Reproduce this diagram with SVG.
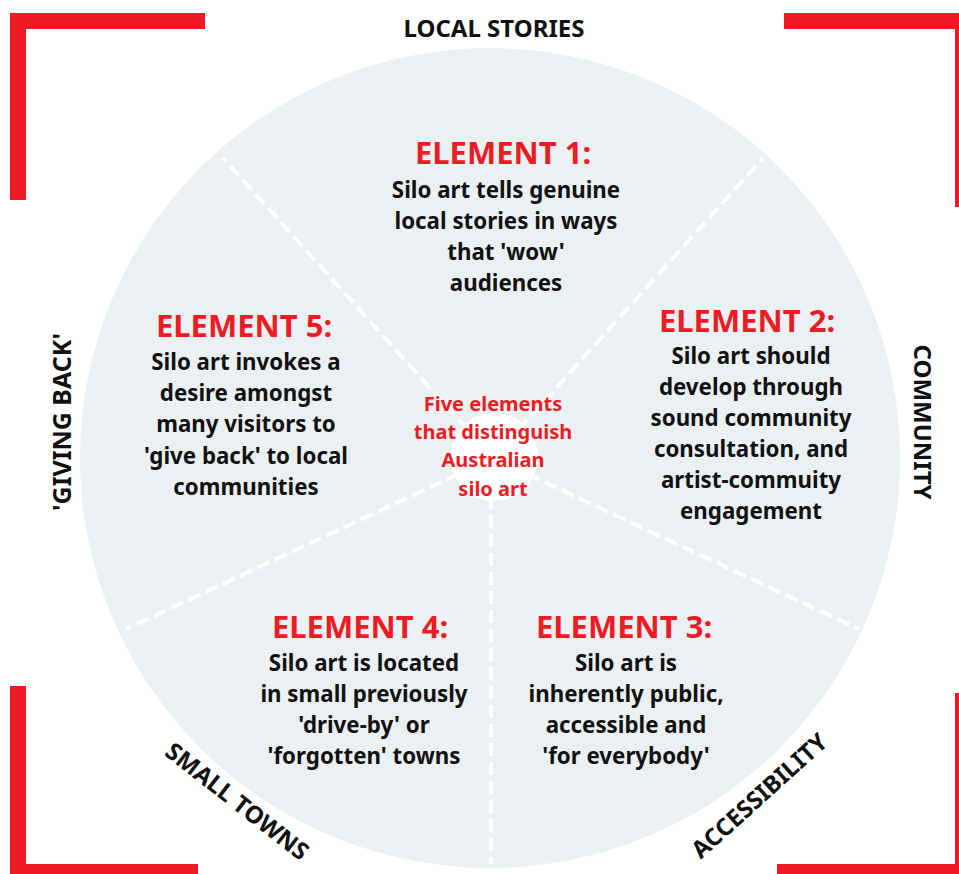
<svg xmlns="http://www.w3.org/2000/svg" width="959" height="874" viewBox="0 0 959 874">
<style>
.bar{fill:#ed1c24}
.t{font-family:"Noto Sans","Open Sans","Liberation Sans",sans-serif;font-weight:700;text-anchor:middle}
.title{fill:#ed1c24;font-size:31px}
.body{fill:#111;font-size:22.3px}
.hub{fill:#ed1c24;font-size:20px}
.side{fill:#111;font-size:24px}
.dash{stroke:#fff;stroke-width:4;stroke-dasharray:13 6;fill:none}
</style>
<rect width="959" height="874" fill="#fff"/>
<g id="brackets">
<rect class="bar" x="10" y="13" width="195" height="16"/>
<rect class="bar" x="10" y="13" width="16" height="187"/>
<rect class="bar" x="784" y="13" width="180" height="16"/>
<rect class="bar" x="955" y="13" width="16" height="194"/>
<rect class="bar" x="10" y="686" width="16" height="200"/>
<rect class="bar" x="10" y="864" width="188" height="16"/>
<rect class="bar" x="955" y="693" width="16" height="200"/>
<rect class="bar" x="777" y="864" width="190" height="16"/>
</g>
<g id="disc">
<circle cx="490" cy="458" r="410" fill="#ebf0f2"/>
</g>
<g id="connectors">
<line class="dash" x1="493" y1="458" x2="223" y2="158"/>
<line class="dash" x1="493" y1="458" x2="763" y2="158"/>
<line class="dash" x1="493" y1="458" x2="859" y2="629"/>
<line class="dash" x1="491" y1="458" x2="491" y2="864"/>
<line class="dash" x1="493" y1="458" x2="126" y2="629"/>
</g>
<g id="hub">
<circle cx="494" cy="457" r="44" fill="#fff"/>
<text class="t hub" x="493" y="411">Five elements</text>
<text class="t hub" x="493" y="439">that distinguish</text>
<text class="t hub" x="493" y="467">Australian</text>
<text class="t hub" x="493" y="496">silo art</text>
</g>
<g id="element1">
<text class="t title" x="503" y="164">ELEMENT 1:</text>
<text class="t body" x="506" y="198">Silo art tells genuine</text>
<text class="t body" x="506" y="229">local stories in ways</text>
<text class="t body" x="506" y="260">that 'wow'</text>
<text class="t body" x="506" y="291">audiences</text>
</g>
<g id="element2">
<text class="t title" x="747" y="332">ELEMENT 2:</text>
<text class="t body" x="751" y="364">Silo art should</text>
<text class="t body" x="751" y="395">develop through</text>
<text class="t body" x="751" y="426">sound community</text>
<text class="t body" x="751" y="457">consultation, and</text>
<text class="t body" x="751" y="488">artist-commuity</text>
<text class="t body" x="751" y="519">engagement</text>
</g>
<g id="element3">
<text class="t title" x="624" y="638">ELEMENT 3:</text>
<text class="t body" x="626" y="671">Silo art is</text>
<text class="t body" x="626" y="702">inherently public,</text>
<text class="t body" x="626" y="733">accessible and</text>
<text class="t body" x="626" y="764">'for everybody'</text>
</g>
<g id="element4">
<text class="t title" x="360" y="638">ELEMENT 4:</text>
<text class="t body" x="364" y="671">Silo art is located</text>
<text class="t body" x="364" y="702">in small previously</text>
<text class="t body" x="364" y="733">'drive-by' or</text>
<text class="t body" x="364" y="764">'forgotten' towns</text>
</g>
<g id="element5">
<text class="t title" x="244" y="337">ELEMENT 5:</text>
<text class="t body" x="246" y="370">Silo art invokes a</text>
<text class="t body" x="246" y="401">desire amongst</text>
<text class="t body" x="246" y="432">many visitors to</text>
<text class="t body" x="246" y="464">'give back' to local</text>
<text class="t body" x="246" y="495">communities</text>
</g>
<g id="labels">
<text class="t side" x="494" y="37">LOCAL STORIES</text>
<text class="t side" style="font-size:25px" transform="translate(71 422) rotate(-90)">'GIVING BACK'</text>
<text class="t side" transform="translate(914 422) rotate(90)">COMMUNITY</text>
<text class="t side" transform="translate(232 808) rotate(38)">SMALL TOWNS</text>
<text class="t side" transform="translate(765 802) rotate(-42)">ACCESSIBILITY</text>
</g>
</svg>
